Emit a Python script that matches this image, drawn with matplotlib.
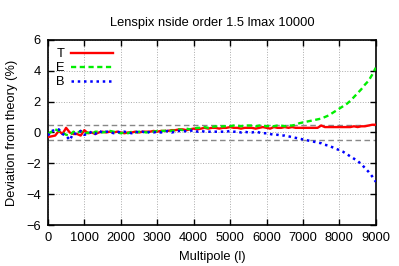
import matplotlib
matplotlib.use("Agg")
import matplotlib.pyplot as plt
import numpy as np

plt.rcParams['font.family'] = ['Liberation Sans', 'DejaVu Sans']

ell = list(range(0, 9001, 100))

dev_T = [-0.3, -0.25, -0.2, 0.1, -0.1, 0.3, 0.0, -0.1, -0.1, -0.2,
         0.15, -0.05, 0.0, -0.1, 0.0, 0.05, 0.0, 0.05, 0.0, 0.05,
         0.0, -0.05, 0.0, 0.0, 0.05, 0.0, 0.05, 0.05, 0.05, 0.1,
         0.05, 0.1, 0.1, 0.1, 0.15, 0.15, 0.2, 0.2, 0.15, 0.2,
         0.25, 0.2, 0.25, 0.3, 0.25, 0.3, 0.3, 0.25, 0.3, 0.3,
         0.35, 0.3, 0.3, 0.25, 0.3, 0.3, 0.3, 0.25, 0.3, 0.35,
         0.3, 0.25, 0.35, 0.3, 0.3, 0.35, 0.3, 0.35, 0.3, 0.3,
         0.3, 0.3, 0.3, 0.3, 0.3, 0.45, 0.35, 0.35, 0.35, 0.35,
         0.35, 0.35, 0.35, 0.35, 0.4, 0.35, 0.4, 0.4, 0.45, 0.5,
         0.5]

dev_E = [-0.1, 0.05, 0.2, 0.1, 0.0, -0.15, -0.2, 0.05, -0.05, 0.1,
         -0.1, 0.0, -0.1, 0.05, 0.05, 0.0, 0.05, 0.1, 0.05, 0.0,
         -0.05, 0.0, -0.05, 0.05, 0.0, 0.05, 0.05, 0.0, 0.05, 0.05,
         0.1, 0.1, 0.1, 0.15, 0.1, 0.15, 0.2, 0.15, 0.25, 0.2,
         0.25, 0.3, 0.3, 0.35, 0.3, 0.35, 0.4, 0.35, 0.4, 0.4,
         0.4, 0.45, 0.45, 0.4, 0.45, 0.45, 0.45, 0.4, 0.45, 0.45,
         0.4, 0.45, 0.4, 0.45, 0.45, 0.4, 0.45, 0.45, 0.5, 0.6,
         0.65, 0.7, 0.75, 0.8, 0.85, 0.9, 1.0, 1.1, 1.25, 1.4,
         1.55, 1.7, 1.85, 2.05, 2.3, 2.55, 2.8, 3.1, 3.35, 3.75,
         4.2]

dev_B = [-0.2, 0.1, 0.15, 0.2, -0.1, -0.2, -0.5, -0.05, -0.1, 0.1,
         -0.15, -0.1, 0.05, -0.1, 0.1, 0.0, 0.05, 0.05, -0.05, 0.05,
         0.0, 0.05, 0.0, -0.05, 0.05, 0.0, 0.05, -0.05, 0.05, 0.0,
         0.05, 0.0, 0.05, 0.1, 0.0, 0.05, 0.1, 0.05, 0.1, 0.1,
         0.15, 0.05, 0.1, 0.05, 0.05, 0.05, 0.05, 0.05, 0.05, 0.05,
         0.1, 0.05, 0.05, 0.0, 0.05, 0.0, 0.0, 0.05, 0.0, -0.05,
         -0.05, -0.1, -0.15, -0.15, -0.2, -0.2, -0.25, -0.3, -0.35, -0.4,
         -0.45, -0.5, -0.55, -0.6, -0.65, -0.7, -0.8, -0.85, -0.95, -1.05,
         -1.15, -1.25, -1.4, -1.55, -1.7, -1.85, -2.05, -2.3, -2.55, -2.85,
         -3.2]

series_labels = ['T', 'E', 'B']
tol_band = [0.5, -0.5]
x_ticks = list(range(0, 9001, 1000))
y_ticks = [-6, -4, -2, 0, 2, 4, 6]

fig = plt.figure(figsize=(3.99, 2.66), dpi=100)
ax = fig.add_axes([0.120, 0.154, 0.822, 0.696])

for v in tol_band:
    ax.axhline(v, color='#888888', lw=1.0, ls=(0, (4, 2.5)), zorder=1)

ax.plot(ell, dev_T, color='#ff0000', lw=1.7, ls='-', label=series_labels[0], zorder=3)
ax.plot(ell, dev_E, color='#00ee00', lw=1.7, ls=(0, (2.2, 1.5)), label=series_labels[1], zorder=3)
ax.plot(ell, dev_B, color='#0000ff', lw=1.8, ls=(0, (1, 1.5)), label=series_labels[2], zorder=3)

ax.set_xlim(0, 9000)
ax.set_ylim(-6, 6)
ax.set_xticks(x_ticks)
ax.set_yticks(y_ticks)
ax.grid(True, color='#aaaaaa', ls=':', lw=0.7)
ax.tick_params(direction='in', top=True, right=True, length=4, width=1, labelsize=9.3, pad=5)
for s in ax.spines.values():
    s.set_linewidth(1.2)

ax.set_xlabel('Multipole (l)', fontsize=9.3, labelpad=5)
ax.set_ylabel('Deviation from theory (%)', fontsize=9.3, labelpad=6)
ax.set_title('Lenspix nside order 1.5 lmax 10000', fontsize=9.3, pad=10)

leg = ax.legend(loc='upper left', frameon=False, markerfirst=False, fontsize=9.3,
                handlelength=3.2, handletextpad=0.5, labelspacing=0.15,
                borderaxespad=0.25, bbox_to_anchor=(0.0, 1.0))

fig.savefig('out.png', dpi=100)
